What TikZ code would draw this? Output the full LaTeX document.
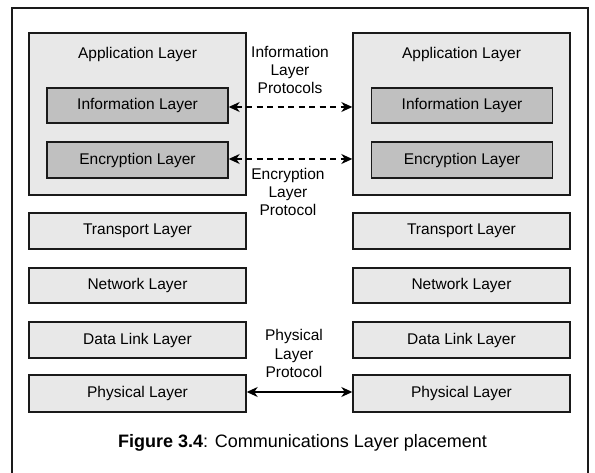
\documentclass[tikz,border=0pt]{standalone}
\usepackage{fontspec}
\setmainfont{Liberation Sans}
\usetikzlibrary{arrows.meta}
\definecolor{layerfill}{HTML}{E8E8E8}
\definecolor{subfill}{HTML}{C0C0C0}
\definecolor{edge}{HTML}{1A1A1A}
\tikzset{
  layerbox/.style={draw=edge, line width=1.4pt, fill=layerfill, minimum width=217pt,
    inner sep=0pt, font=\fontsize{15.5}{18}\selectfont},
  subbox/.style={draw=edge, line width=1.4pt, fill=subfill, minimum width=181pt,
    inner sep=0pt, font=\fontsize{15.5}{18}\selectfont},
  proto/.style={align=center, inner sep=0pt, font=\fontsize{15.5}{18.3}\selectfont},
  peer/.style={line width=1.3pt, {Stealth[length=11pt,width=10pt,inset=3.5pt]}-{Stealth[length=11pt,width=10pt,inset=3.5pt]}},
  peerdash/.style={peer, dash pattern=on 6pt off 4.5pt},
}
\begin{document}
\begin{tikzpicture}[x=1pt,y=-1pt]
  \useasboundingbox (0,0) rectangle (595,473);
  \begin{scope}
    \clip (0,0) rectangle (595,473);
    \draw[edge, line width=1.4pt] (12,8) rectangle (588,480);
  \end{scope}

  % left stack
  \node[layerbox, minimum height=162pt] (la) at (137.5,114) {};
  \node[font=\fontsize{15.5}{18}\selectfont] (lat) at (137.5,54) {Application Layer};
  \node[subbox, minimum height=35pt] (li) at (137.5,105.5) {Information Layer};
  \node[subbox, minimum height=36pt] (le) at (137.5,160) {Encryption Layer};
  \node[layerbox, minimum height=36pt] (lt) at (137.5,231) {Transport Layer};
  \node[layerbox, minimum height=35pt] (ln) at (137.5,285.5) {Network Layer};
  \node[layerbox, minimum height=36pt] (ld) at (137.5,340) {Data Link Layer};
  \node[layerbox, minimum height=37pt] (lp) at (137.5,393.5) {Physical Layer};

  % right stack
  \node[layerbox, minimum height=162pt] (ra) at (461.5,114) {};
  \node[font=\fontsize{15.5}{18}\selectfont] (rat) at (461.5,54) {Application Layer};
  \node[subbox, minimum height=35pt] (ri) at (462,105.5) {Information Layer};
  \node[subbox, minimum height=36pt] (re) at (462,160) {Encryption Layer};
  \node[layerbox, minimum height=36pt] (rt) at (461.5,231) {Transport Layer};
  \node[layerbox, minimum height=35pt] (rn) at (461.5,285.5) {Network Layer};
  \node[layerbox, minimum height=36pt] (rd) at (461.5,340) {Data Link Layer};
  \node[layerbox, minimum height=37pt] (rp) at (461.5,393.5) {Physical Layer};

  % peer protocols
  \coordinate (liE) at ([yshift=-1.5pt]li.east);
  \coordinate (leE) at ([yshift=1pt]le.east);
  \draw[peerdash] (liE) -- (liE -| ra.west);
  \draw[peerdash] (leE) -- (leE -| ra.west);
  \draw[peer] ([yshift=1.5pt]lp.east) -- ([yshift=1.5pt]rp.west);

  \node[proto] (ilp) at (290,70) {Information\\Layer\\Protocols};
  \node[proto] (elp) at (288,192) {Encryption\\Layer\\Protocol};
  \node[proto] (plp) at (294,353.5) {Physical\\Layer\\Protocol};

  \node[font=\fontsize{18}{21}\selectfont] (cap) at (302.5,443)
    {\textbf{Figure 3.4}: Communications Layer placement};
\end{tikzpicture}
\end{document}
